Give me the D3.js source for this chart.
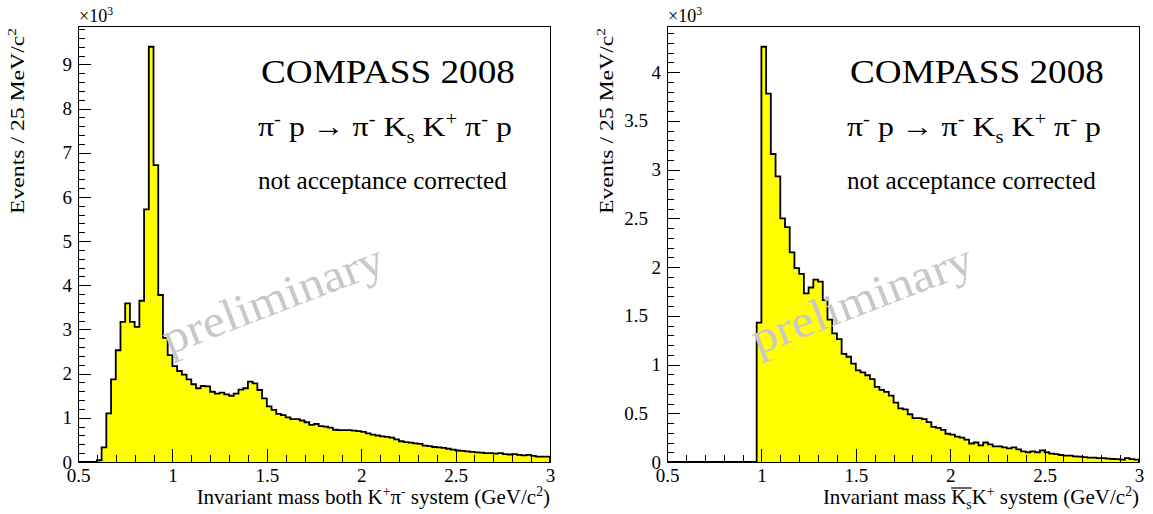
<!DOCTYPE html>
<html>
<head>
<meta charset="utf-8">
<script src="https://cdn.jsdelivr.net/npm/d3@7"></script>
<style>
  body { margin: 0; background: #fff; }
  svg { display: block; }
  text { font-family: "Liberation Serif", "Times New Roman", serif; }
</style>
</head>
<body>
<svg id="chart" width="1153" height="514"></svg>
<script>
// 25 MeV/c^2 bins from 0.5 to 3 GeV/c^2
const binStart = 0.5;
const binWidth = 0.025;

// events per bin (x10^3), K+ pi- system
const kpiCounts = [
  0, 0, 0, 0, 0.04, 0.33, 1.10, 1.87, 2.53, 3.17,
  3.59, 3.17, 3.06, 3.65, 5.72, 9.40, 6.72, 3.78, 2.81, 2.42,
  2.17, 2.06, 1.98, 1.87, 1.76, 1.67, 1.72, 1.71, 1.59, 1.55,
  1.57, 1.53, 1.50, 1.55, 1.64, 1.67, 1.82, 1.78, 1.63, 1.44,
  1.26, 1.18, 1.09, 1.06, 1.01, 0.97, 0.97, 0.94, 0.90, 0.84,
  0.86, 0.81, 0.80, 0.78, 0.73, 0.72, 0.72, 0.72, 0.71, 0.70,
  0.68, 0.65, 0.62, 0.60, 0.58, 0.57, 0.55, 0.51, 0.47, 0.45,
  0.44, 0.42, 0.41, 0.37, 0.36, 0.34, 0.33, 0.32, 0.30, 0.28,
  0.26, 0.25, 0.24, 0.23, 0.22, 0.21, 0.20, 0.20, 0.19, 0.20,
  0.18, 0.17, 0.18, 0.16, 0.15, 0.16, 0.14, 0.12, 0.12, 0.12
];

// events per bin (x10^3), Ks K+ system
const ksKCounts = [
  0, 0, 0, 0, 0, 0, 0, 0, 0, 0,
  0, 0, 0, 0, 0, 0, 0, 0, 0, 1.43,
  4.26, 3.78, 3.16, 2.93, 2.50, 2.41, 2.15, 1.99, 1.93, 1.73,
  1.79, 1.87, 1.85, 1.66, 1.46, 1.32, 1.26, 1.11, 1.08, 1.01,
  0.94, 0.92, 0.89, 0.85, 0.77, 0.74, 0.72, 0.68, 0.61, 0.55,
  0.54, 0.49, 0.45, 0.45, 0.44, 0.41, 0.36, 0.35, 0.33, 0.29,
  0.28, 0.26, 0.25, 0.23, 0.19, 0.20, 0.17, 0.20, 0.18, 0.16,
  0.16, 0.15, 0.14, 0.15, 0.13, 0.11, 0.10, 0.11, 0.10, 0.12,
  0.10, 0.086, 0.08, 0.072, 0.065, 0.065, 0.058, 0.055, 0.05, 0.045,
  0.045, 0.04, 0.04, 0.035, 0.031, 0.03, 0.025, 0.04, 0.03, 0.025
];

const xTicks = [0.5, 1, 1.5, 2, 2.5, 3];
const kpiYTicks = [0, 1, 2, 3, 4, 5, 6, 7, 8, 9];
const ksKYTicks = [0, 0.5, 1, 1.5, 2, 2.5, 3, 3.5, 4];

// [text, 'sup' | 'sub' | undefined]
const yTitle = [['Events / 25 MeV/c'], ['2', 'sup']];
const kpiXTitle = [['Invariant mass both K'], ['+', 'sup'], ['\u03c0'], ['-', 'sup'], [' system (GeV/c'], ['2', 'sup'], [')']];
const ksKXTitle = [['Invariant mass '], ['K'], ['s', 'sub'], ['K'], ['+', 'sup'], [' system (GeV/c'], ['2', 'sup'], [')']];
const reaction = [['\u03c0'], ['-', 'sup'], [' p \u2192 \u03c0'], ['-', 'sup'], [' K'], ['s', 'sub'], [' K'], ['+', 'sup'], [' \u03c0'], ['-', 'sup'], [' p']];
const experiment = 'COMPASS 2008';
const note = 'not acceptance corrected';
const watermark = 'preliminary';

const FONT = '"Liberation Serif", "Times New Roman", serif';
const W = 472, H = 436, TOP = 26;
const svg = d3.select('#chart');

function addRich(text, parts, size) {
  let shift = 0;
  parts.forEach(([str, kind]) => {
    const target = kind === 'sup' ? -0.4 * size : kind === 'sub' ? 0.25 * size : 0;
    text.append('tspan')
      .attr('dy', target - shift)
      .attr('font-size', kind ? size * 0.65 : size)
      .text(str);
    shift = target;
  });
  return text;
}

// stretch a text to a given width (ROOT fonts run wider than ours)
function fit(sel, x, y, width, rot) {
  const len = sel.node().getComputedTextLength();
  sel.attr('transform', `translate(${x},${y})` + (rot ? ` rotate(${rot})` : '') + ` scale(${width / len},1)`);
}

function styleAxis(a) {
  a.select('.domain').remove();
  a.attr('font-size', 19).attr('font-family', FONT);
  a.selectAll('line').attr('shape-rendering', 'crispEdges');
}

function drawPanel(left, counts, yTicks, yStep, xTitle, overline) {
  const g = svg.append('g').attr('transform', `translate(${left},${TOP})`);
  const x = d3.scaleLinear().domain([0.5, 3]).range([0, W]);
  const ymax = d3.max(counts) * 1.05;
  const y = d3.scaleLinear().domain([0, ymax]).range([H, 0]);

  // histogram outline as steps
  const pts = [[binStart, 0]];
  counts.forEach((c, i) => {
    const lo = binStart + i * binWidth;
    pts.push([lo, c], [lo + binWidth, c]);
  });
  pts.push([binStart + counts.length * binWidth, 0]);
  const line = d3.line().x(d => x(d[0])).y(d => y(d[1]));

  g.append('path')
    .attr('d', line(pts))
    .attr('fill', '#ffff00')
    .attr('stroke', '#000')
    .attr('stroke-width', 1.8);

  // watermark
  const wm = g.append('text')
    .attr('font-size', 46)
    .attr('fill', '#c8c8c8')
    .text(watermark);
  fit(wm, 91, 329, 234, -21);

  // frame
  g.append('rect')
    .attr('width', W).attr('height', H)
    .attr('fill', 'none').attr('stroke', '#000').attr('stroke-width', 1)
    .attr('shape-rendering', 'crispEdges');

  // x axis: minor then major ticks, pointing inward
  const xMinor = d3.range(0.5, 3.0001, 0.1).filter(v => Math.abs(v * 2 - Math.round(v * 2)) > 1e-6);
  g.append('g').attr('transform', `translate(0,${H})`)
    .call(d3.axisBottom(x).tickValues(xMinor).tickSize(-7).tickFormat(''))
    .call(styleAxis);
  g.append('g').attr('transform', `translate(0,${H})`)
    .call(d3.axisBottom(x).tickValues(xTicks).tickSize(-13).tickPadding(7).tickFormat(d3.format('~g')))
    .call(styleAxis);

  // y axis
  const yMinor = d3.range(0, ymax, yStep / 5).filter(v => Math.abs(v / yStep - Math.round(v / yStep)) > 1e-6);
  g.append('g')
    .call(d3.axisLeft(y).tickValues(yMinor).tickSize(-7).tickFormat(''))
    .call(styleAxis);
  const gy = g.append('g')
    .call(d3.axisLeft(y).tickValues(yTicks).tickSize(-13).tickPadding(6).tickFormat(d3.format('~g')))
    .call(styleAxis);
  gy.selectAll('.tick text').filter(d => d % 1 !== 0).attr('x', -19);

  // x10^3
  const mult = g.append('text').attr('x', 1).attr('y', -4);
  addRich(mult, [['\u00d710'], ['3', 'sup']], 18);

  // axis titles
  const xt = g.append('text')
    .attr('x', W).attr('y', H + 42)
    .attr('text-anchor', 'end');
  addRich(xt, xTitle, 21);
  if (overline) {
    const n = xt.node();
    const a = n.getExtentOfChar(15), b = n.getExtentOfChar(16);
    g.append('line')
      .attr('x1', a.x).attr('x2', b.x + b.width)
      .attr('y1', a.y + 3).attr('y2', a.y + 3)
      .attr('stroke', '#000').attr('stroke-width', 1.2);
  }

  const yt = g.append('text').attr('text-anchor', 'end');
  addRich(yt, yTitle, 19);
  fit(yt, -54, 2, 186, -90);

  // annotations
  const t1 = g.append('text').attr('font-size', 34).text(experiment);
  fit(t1, 183, 57, 254);
  const t2 = addRich(g.append('text'), reaction, 28);
  fit(t2, 180, 110, 254);
  const t3 = g.append('text').attr('font-size', 25).text(note);
  fit(t3, 180, 163, 249);
}

drawPanel(78, kpiCounts, kpiYTicks, 1, kpiXTitle, false);
drawPanel(667, ksKCounts, ksKYTicks, 0.5, ksKXTitle, true);
</script>
</body>
</html>
